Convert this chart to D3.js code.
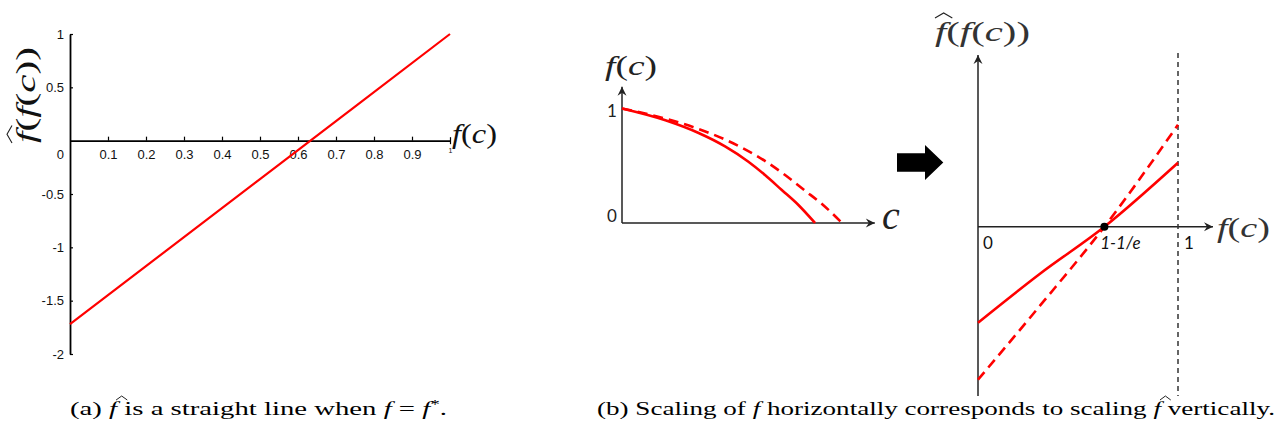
<!DOCTYPE html>
<html>
<head>
<meta charset="utf-8">
<script src="https://cdn.jsdelivr.net/npm/d3@7"></script>
<style>
  body { margin: 0; background: #fff; }
  svg { display: block; }
</style>
</head>
<body>
<svg id="fig" width="1284" height="429"></svg>
<script>
// ---------- data ----------
// (a) f-hat as a function of f(c) when f = f*
const aX = [0, 0.25, 0.5, 0.75, 1];
const aY = [-1.72, -1.04, -0.36, 0.32, 1.0];
const aXTicks = [0.1, 0.2, 0.3, 0.4, 0.5, 0.6, 0.7, 0.8, 0.9, 1];
const aYTicks = [-2, -1.5, -1, -0.5, 0.5, 1];

// (b) left: f(c) and its horizontally stretched copy
const cSolid  = [0, 0.225, 0.397, 0.534, 0.655, 0.741, 0.828, 0.914, 1.0];
const fSolid  = [1.0, 0.897, 0.786, 0.669, 0.535, 0.419, 0.288, 0.157, 0.0];
const cDashed = [0, 0.256, 0.453, 0.609, 0.747, 0.845, 0.944, 1.042, 1.14];
const fDashed = [1.0, 0.897, 0.786, 0.669, 0.535, 0.419, 0.288, 0.157, 0.0];

// (b) right: f-hat for the two curves
const gX       = [0, 0.31, 0.632, 1];
const gSolidY  = [-0.96, -0.47, 0, 0.64];
const gDashedY = [-1.53, -0.79, 0, 1.02];
const crossX = 0.632;           // 1 - 1/e
const rightTickLabels = ["0", "1-1/e", "1"];

// ---------- setup ----------
const svg = d3.select("#fig");
const RED = "#ff0000";
const serif = "'Liberation Serif', 'Times New Roman', serif";
const sans = "'Liberation Sans', Arial, sans-serif";
const cal = "Lato, 'Open Sans', sans-serif";

const defs = svg.append("defs");
defs.append("marker")
  .attr("id", "arrow")
  .attr("viewBox", "-10 -5 12 10")
  .attr("refX", 0).attr("refY", 0)
  .attr("markerWidth", 12).attr("markerHeight", 10)
  .attr("markerUnits", "userSpaceOnUse")
  .attr("orient", "auto")
  .append("path")
  .attr("d", "M0,0 L-9,-4.5 L-6,0 L-9,4.5 Z")
  .attr("fill", "#222");

// draws a wide hat over character `idx` of a text element
function addHat(parent, textNode, idx, opts = {}) {
  const ext = textNode.getExtentOfChar(idx);
  const padL = opts.padL ?? 0, padR = opts.padR ?? 0;
  const x0 = ext.x + padL, x1 = ext.x + ext.width + padR;
  const top = ext.y + (opts.top ?? 0);
  const h = opts.h ?? 5;
  parent.append("path")
    .attr("d", `M${x0},${top} L${(x0 + x1) / 2},${top - h} L${x1},${top}`)
    .attr("fill", "none").attr("stroke", "#222")
    .attr("stroke-width", opts.sw ?? 1.1);
}

// ---------- panel (a) ----------
const xA = d3.scaleLinear([0, 1], [70, 450]);
const yA = d3.scaleLinear([-2, 1], [354, 34]);

const gA = svg.append("g");
const xAxisA = d3.axisBottom(xA).tickValues(aXTicks)
  .tickSizeInner(-4).tickSizeOuter(0).tickPadding(9)
  .tickFormat(d => String(d));
const xg = gA.append("g").attr("transform", `translate(0,${yA(0)})`).call(xAxisA);
const yAxisA = d3.axisLeft(yA).tickValues(aYTicks)
  .tickSizeInner(-3).tickSizeOuter(0).tickPadding(6)
  .tickFormat(d => String(d));
const yg = gA.append("g").attr("transform", `translate(${xA(0)},0)`).call(yAxisA);

[xg, yg].forEach(g => {
  g.select(".domain").attr("stroke", "#000").attr("stroke-width", 1.8);
  g.selectAll(".tick line").attr("stroke", "#000").attr("stroke-width", 1.2);
  g.selectAll(".tick text").attr("font-family", sans).attr("font-size", 13).attr("fill", "#111");
});
// last x tick crosses the axis and carries a small label
xg.selectAll(".tick").filter(d => d === 1).each(function () {
  d3.select(this).select("line").attr("y1", 3.5).attr("y2", -3.5);
  d3.select(this).select("text").attr("font-size", 7).attr("y", 7);
});
// origin label
gA.append("text").attr("x", 64).attr("y", 159)
  .attr("text-anchor", "end").attr("font-family", sans).attr("font-size", 13)
  .attr("fill", "#111").text("0");

gA.append("path")
  .datum(d3.zip(aX, aY))
  .attr("d", d3.line().x(d => xA(d[0])).y(d => yA(d[1])))
  .attr("fill", "none").attr("stroke", RED).attr("stroke-width", 2.2);

// axis titles
const xtA = gA.append("text").attr("x", 452).attr("y", 143)
  .attr("font-family", serif).attr("font-size", 27).attr("fill", "#111")
  .attr("textLength", 45).attr("lengthAdjust", "spacingAndGlyphs");
xtA.append("tspan").attr("font-style", "italic").text("f");
xtA.append("tspan").text("(");
xtA.append("tspan").attr("font-style", "italic").text("c");
xtA.append("tspan").text(")");

const ylabA = gA.append("g").attr("transform", "translate(35,143) rotate(-90)");
const ytA = ylabA.append("text").attr("x", 0).attr("y", 0)
  .attr("font-family", serif).attr("font-size", 28).attr("fill", "#111")
  .attr("textLength", 96).attr("lengthAdjust", "spacingAndGlyphs");
ytA.append("tspan").attr("font-style", "italic").text("f");
ytA.append("tspan").text("(");
ytA.append("tspan").attr("font-style", "italic").text("f");
ytA.append("tspan").text("(");
ytA.append("tspan").attr("font-style", "italic").text("c");
ytA.append("tspan").text("))");
addHat(ylabA, ytA.node(), 0, { padL: 0, padR: 6, top: 2, h: 5 });

// ---------- panel (b), left ----------
const xS = d3.scaleLinear([0, 1], [622, 815]);
const yS = d3.scaleLinear([0, 1], [223, 108.5]);
const gS = svg.append("g");

gS.append("line").attr("x1", xS(0)).attr("y1", yS(0)).attr("x2", xS(0)).attr("y2", yS(1.19))
  .attr("stroke", "#222").attr("stroke-width", 1.5).attr("marker-end", "url(#arrow)");
gS.append("line").attr("x1", xS(0)).attr("y1", yS(0)).attr("x2", xS(1.31)).attr("y2", yS(0))
  .attr("stroke", "#222").attr("stroke-width", 1.5).attr("marker-end", "url(#arrow)");

const lineS = d3.line().x(d => xS(d[0])).y(d => yS(d[1])).curve(d3.curveMonotoneX);
gS.append("path").datum(d3.zip(cSolid, fSolid)).attr("d", lineS)
  .attr("fill", "none").attr("stroke", RED).attr("stroke-width", 2.6);
gS.append("path").datum(d3.zip(cDashed, fDashed)).attr("d", lineS)
  .attr("fill", "none").attr("stroke", RED).attr("stroke-width", 2.6)
  .attr("stroke-dasharray", "10 6");

gS.append("text").attr("x", xS(0) - 10).attr("y", yS(1) + 8)
  .attr("text-anchor", "middle").attr("font-family", cal).attr("font-size", 17)
  .attr("fill", "#222").text("1");
gS.append("text").attr("x", xS(0) - 10).attr("y", yS(0) - 1)
  .attr("text-anchor", "middle").attr("font-family", cal).attr("font-size", 17)
  .attr("fill", "#222").text("0");

const fcS = gS.append("text").attr("x", 605).attr("y", 75)
  .attr("font-family", serif).attr("font-size", 27).attr("fill", "#222")
  .attr("textLength", 52).attr("lengthAdjust", "spacingAndGlyphs");
fcS.append("tspan").attr("font-style", "italic").text("f");
fcS.append("tspan").text("(");
fcS.append("tspan").attr("font-style", "italic").text("c");
fcS.append("tspan").text(")");
gS.append("text").attr("x", 882).attr("y", 229)
  .attr("font-family", serif).attr("font-style", "italic").attr("font-size", 40)
  .attr("fill", "#222").text("c");

// block arrow between the two sketches
svg.append("path")
  .attr("d", "M897,153.3 L925,153.3 L925,145 L943.3,162.5 L925,180 L925,171.7 L897,171.7 Z")
  .attr("fill", "#000");

// ---------- panel (b), right ----------
const xR = d3.scaleLinear([0, 1], [978, 1178]);
const yR = d3.scaleLinear([0, 1], [226.7, 126.7]);
const gR = svg.append("g");

gR.append("line").attr("x1", xR(0)).attr("y1", 396).attr("x2", xR(0)).attr("y2", 55)
  .attr("stroke", "#222").attr("stroke-width", 1.5).attr("marker-end", "url(#arrow)");
gR.append("line").attr("x1", xR(0)).attr("y1", yR(0)).attr("x2", 1213).attr("y2", yR(0))
  .attr("stroke", "#222").attr("stroke-width", 1.5).attr("marker-end", "url(#arrow)");
gR.append("line").attr("x1", xR(1)).attr("y1", 53).attr("x2", xR(1)).attr("y2", 396)
  .attr("stroke", "#333").attr("stroke-width", 1.5).attr("stroke-dasharray", "5 4");

const lineR = d3.line().x(d => xR(d[0])).y(d => yR(d[1])).curve(d3.curveMonotoneX);
gR.append("path").datum(d3.zip(gX, gSolidY)).attr("d", lineR)
  .attr("fill", "none").attr("stroke", RED).attr("stroke-width", 2.6);
gR.append("path").datum(d3.zip(gX, gDashedY)).attr("d", lineR)
  .attr("fill", "none").attr("stroke", RED).attr("stroke-width", 2.6)
  .attr("stroke-dasharray", "10 6");
gR.append("circle").attr("cx", xR(crossX)).attr("cy", yR(0)).attr("r", 4).attr("fill", "#000");

const rtPos = [[xR(0) + 10, "normal"], [xR(crossX) + 16, "italic"], [xR(1) + 11, "normal"]];
rightTickLabels.forEach((t, i) => {
  gR.append("text").attr("x", rtPos[i][0]).attr("y", yR(0) + 22)
    .attr("text-anchor", "middle").attr("font-family", cal).attr("font-size", 17)
    .attr("font-style", rtPos[i][1]).attr("fill", "#111").text(t);
});

const fcR = gR.append("text").attr("x", 1217).attr("y", 237)
  .attr("font-family", serif).attr("font-size", 28).attr("fill", "#333")
  .attr("textLength", 53).attr("lengthAdjust", "spacingAndGlyphs");
fcR.append("tspan").attr("font-style", "italic").text("f");
fcR.append("tspan").text("(");
fcR.append("tspan").attr("font-style", "italic").text("c");
fcR.append("tspan").text(")");

const ttR = gR.append("text").attr("x", 935).attr("y", 41)
  .attr("font-family", serif).attr("font-size", 28).attr("fill", "#333")
  .attr("textLength", 95).attr("lengthAdjust", "spacingAndGlyphs");
ttR.append("tspan").attr("font-style", "italic").text("f");
ttR.append("tspan").text("(");
ttR.append("tspan").attr("font-style", "italic").text("f");
ttR.append("tspan").text("(");
ttR.append("tspan").attr("font-style", "italic").text("c");
ttR.append("tspan").text("))");
addHat(gR, ttR.node(), 0, { padL: 0, padR: 6, top: 2, h: 5 });

// ---------- captions ----------
const capA = svg.append("text").attr("x", 70).attr("y", 415)
  .attr("font-family", serif).attr("font-size", 18).attr("fill", "#000")
  .attr("textLength", 377).attr("lengthAdjust", "spacingAndGlyphs");
capA.append("tspan").text("(a)  ");
capA.append("tspan").attr("font-style", "italic").text("f");
capA.append("tspan").text(" is a straight line when ");
capA.append("tspan").attr("font-style", "italic").text("f");
capA.append("tspan").text(" = ");
capA.append("tspan").attr("font-style", "italic").text("f");
capA.append("tspan").attr("dy", -7).attr("font-size", 12).text("*");
capA.append("tspan").attr("dy", 7).text(".");
addHat(svg, capA.node(), 5, { padL: -1, padR: 3, top: 1, h: 4, sw: 1 });

const capB = svg.append("text").attr("x", 597).attr("y", 415)
  .attr("font-family", serif).attr("font-size", 18).attr("fill", "#000")
  .attr("textLength", 678).attr("lengthAdjust", "spacingAndGlyphs");
capB.append("tspan").text("(b)  Scaling of ");
capB.append("tspan").attr("font-style", "italic").text("f");
capB.append("tspan").text(" horizontally corresponds to scaling ");
capB.append("tspan").attr("font-style", "italic").text("f");
capB.append("tspan").text(" vertically.");
const hatIdx = ("(b)  Scaling of f horizontally corresponds to scaling ").length;
addHat(svg, capB.node(), hatIdx, { padL: -1, padR: 3, top: 1, h: 4, sw: 1 });
</script>
</body>
</html>
